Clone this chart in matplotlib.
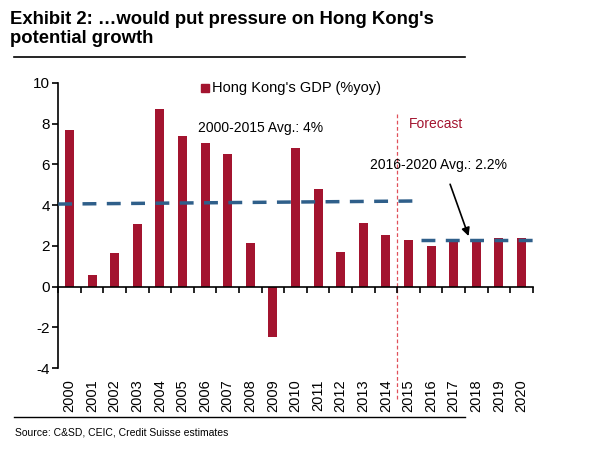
import matplotlib.pyplot as plt
import numpy as np

plt.rcParams['font.family'] = ['Liberation Sans', 'DejaVu Sans']
plt.rcParams['axes.unicode_minus'] = False

# Data
years = [str(y) for y in range(2000, 2021)]
gdp = [7.7, 0.55, 1.65, 3.05, 8.7, 7.4, 7.05, 6.5, 2.15, -2.45, 6.8,
       4.8, 1.7, 3.1, 2.55, 2.3, 2.0, 2.2, 2.25, 2.4, 2.4]
avg_old_x = [-0.5, 15.3]
avg_old_y = [4.05, 4.2]
avg_new_x = [15.55, 20.55]
avg_new_y = [2.3, 2.3]

bar_color = '#a3142f'
line_color = '#2f5f8a'

fig = plt.figure(figsize=(6, 4.5), dpi=100)
ax = fig.add_axes([0.097, 0.182, 0.791, 0.634])

x = np.arange(len(years))
ax.bar(x, gdp, width=0.4, color=bar_color, zorder=2)

ax.plot(avg_old_x, avg_old_y, color=line_color, lw=2.5, dashes=(4, 3), zorder=3)
ax.plot(avg_new_x, avg_new_y, color=line_color, lw=2.5, dashes=(4, 3), zorder=3)

ax.set_xlim(-0.5, 20.5)
ax.set_ylim(-4, 10)
ax.set_yticks(range(-4, 11, 2))
ax.tick_params(axis='y', labelsize=11, length=4, width=1.2, pad=2)

for s in ['top', 'right']:
    ax.spines[s].set_visible(False)
ax.spines['left'].set_linewidth(1.2)
ax.spines['bottom'].set_position(('data', 0))
ax.spines['bottom'].set_linewidth(1.2)
ax.set_xticks(np.arange(-0.5, 21, 1))
ax.set_xticklabels([])
ax.tick_params(axis='x', length=4, width=1.2, direction='out')

for i, yr in enumerate(years):
    ax.text(i, -0.04, yr, transform=ax.get_xaxis_transform(), rotation=90,
            ha='center', va='top', fontsize=10.5)

# forecast line
ax.plot([14.5, 14.5], [-0.11, 0.895], transform=ax.get_xaxis_transform(),
        color='#e0505a', lw=0.9, ls=(0, (3, 2)), clip_on=False, zorder=1)
ax.text(15.0, 8.0, 'Forecast', color='#a3142f', fontsize=10, va='center')

# legend
ax.plot([6.0], [9.75], marker='s', ms=6, color=bar_color, ls='none')
ax.text(6.3, 9.75, "Hong Kong's GDP (%yoy)", fontsize=10.5, va='center')

ax.text(5.7, 7.8, '2000-2015 Avg.: 4%', fontsize=10, va='center')
ax.text(13.3, 5.95, '2016-2020 Avg.: 2.2%', fontsize=10, va='center')
ax.annotate('', xy=(17.7, 2.35), xytext=(16.8, 5.15),
            arrowprops=dict(arrowstyle='-|>', color='black', lw=1.2,
                            mutation_scale=12))

# title and frame lines
fig.text(0.017, 0.975, "Exhibit 2: \u2026would put pressure on Hong Kong's\npotential growth",
         fontsize=13.3, fontweight='bold', va='top', ha='left', linespacing=1.1)
fig.add_artist(plt.Line2D([0.023, 0.775], [0.873, 0.873], color='black', lw=1.2))
fig.add_artist(plt.Line2D([0.023, 0.775], [0.073, 0.073], color='black', lw=1.0))
fig.text(0.025, 0.038, 'Source: C&SD, CEIC, Credit Suisse estimates', fontsize=7.5,
         va='center', ha='left')

plt.savefig('out.png', dpi=100)
